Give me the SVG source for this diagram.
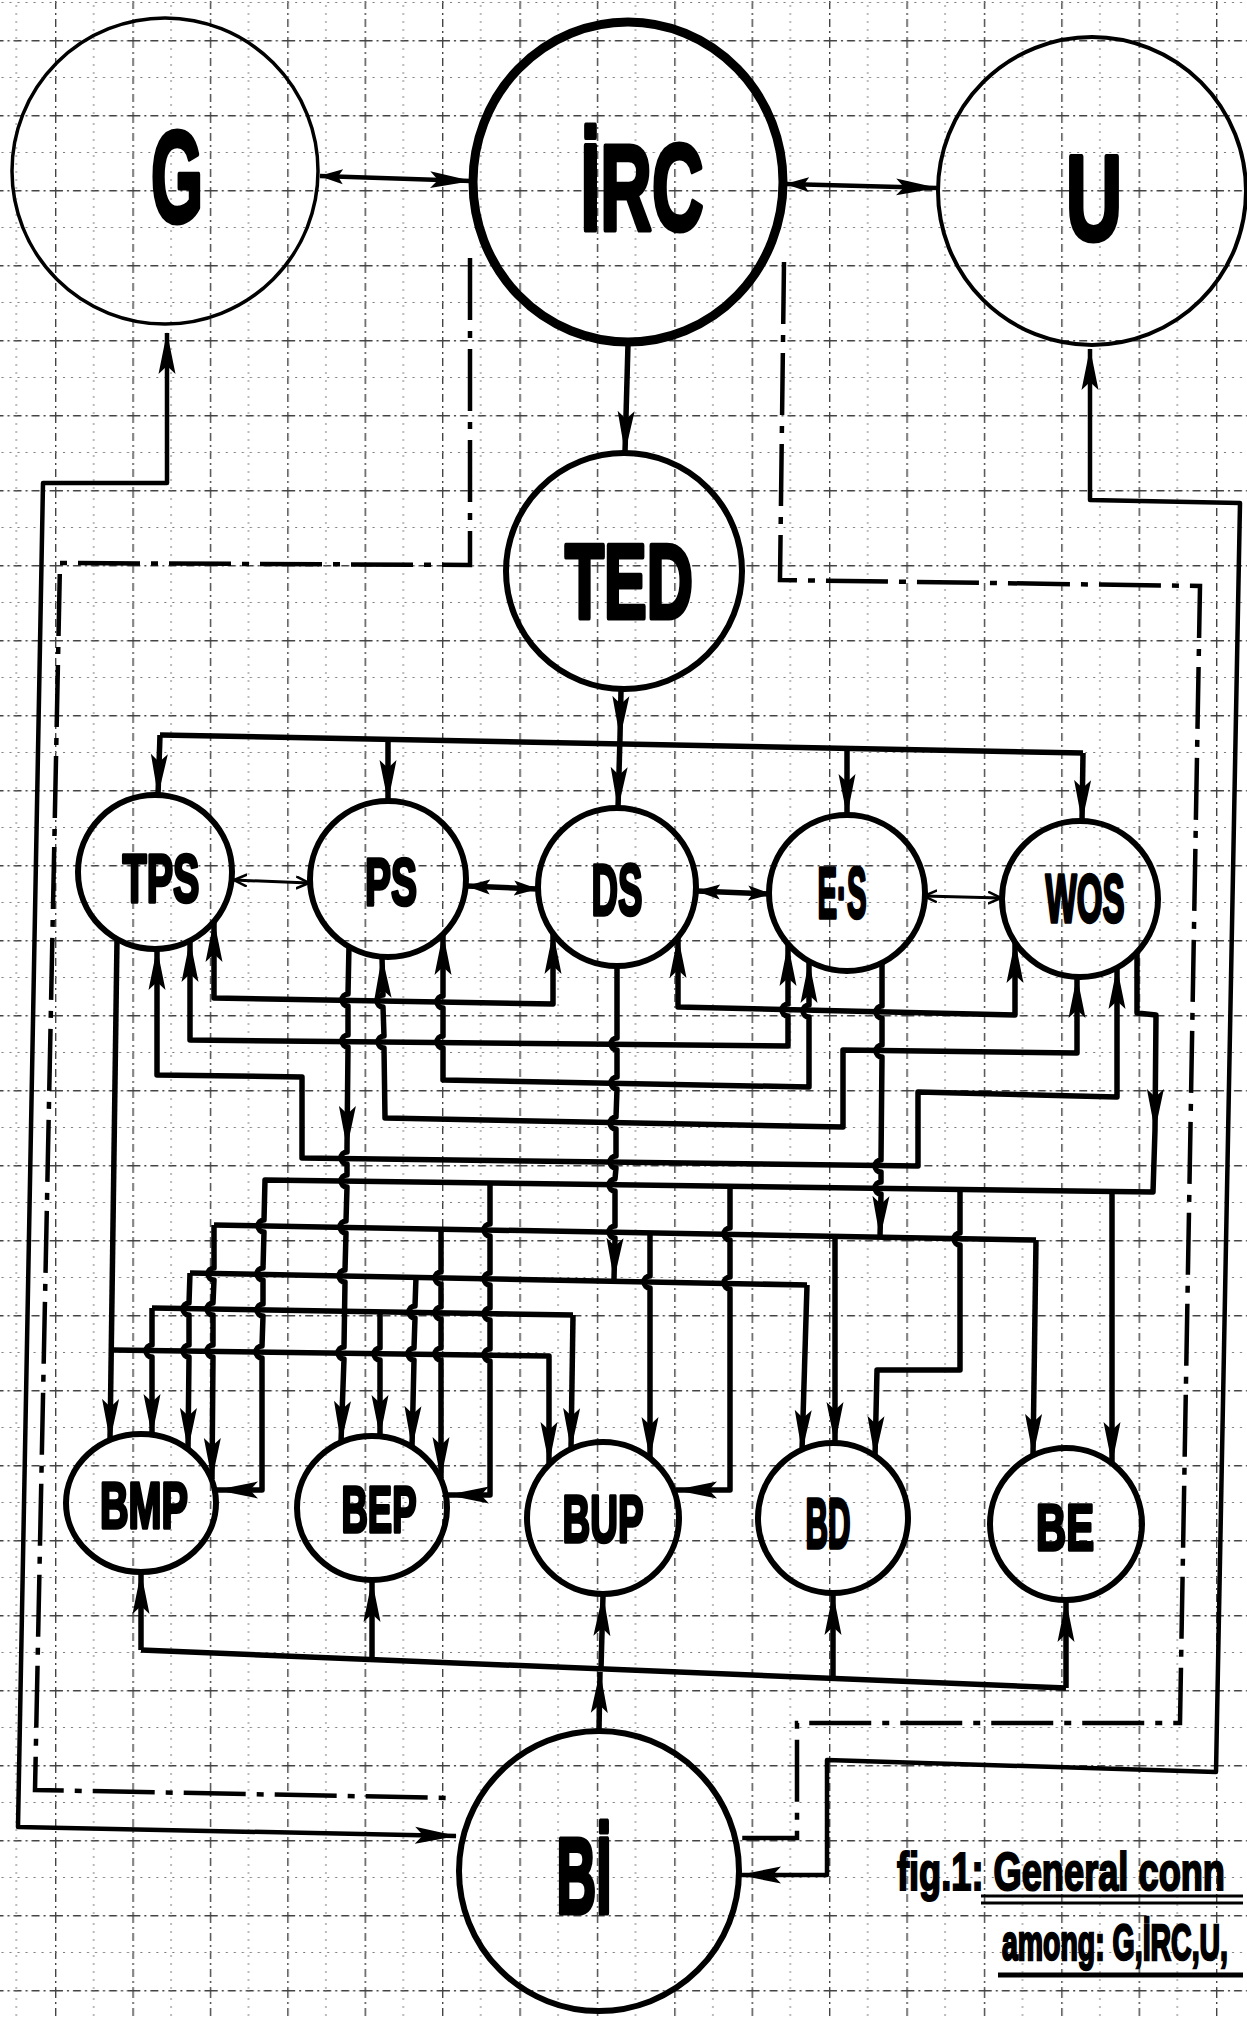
<svg xmlns="http://www.w3.org/2000/svg" width="1247" height="2020" viewBox="0 0 1247 2020">
<style>
.c{fill:none;stroke:#000;stroke-width:5.5;stroke-linejoin:round}
.m{fill:none;stroke:#000;stroke-width:4.5;stroke-linejoin:round}
.t{fill:none;stroke:#000;stroke-width:3}
.dd{fill:none;stroke:#000;stroke-width:4.5;stroke-dasharray:62 11 7 11}
.n{fill:none;stroke:#000;stroke-width:6}
.lb{font-family:"Liberation Sans",Arial,sans-serif;font-weight:bold;text-anchor:middle;fill:#000;stroke:#000;stroke-width:5;stroke-linejoin:round}
.ls{font-family:"Liberation Sans",Arial,sans-serif;font-weight:bold;text-anchor:middle;fill:#000;stroke:#000;stroke-width:3.5;stroke-linejoin:round}
.cap{font-family:"Liberation Sans",Arial,sans-serif;font-weight:bold;fill:#000;stroke:#000;stroke-width:1.5}
</style>
<defs>
<pattern id="grid" patternUnits="userSpaceOnUse" x="55" y="40" width="77.4" height="75">
<path d="M0.7,0 V75 M0,0.7 H77.4" stroke="#444" stroke-width="1.4" stroke-dasharray="8 4 2 4" fill="none"/>
<path d="M38.7,0 V75 M0,37.5 H77.4" stroke="#777" stroke-width="1" stroke-dasharray="2 6" fill="none"/>
</pattern>
<marker id="ah" viewBox="0 0 42 18" refX="41" refY="9" markerWidth="42" markerHeight="18" markerUnits="userSpaceOnUse" orient="auto-start-reverse"><path d="M0,0.5 L42,9 L0,17.5 L8,9 Z" fill="#000"/></marker>
<marker id="am" viewBox="0 0 24 16" refX="23" refY="8" markerWidth="24" markerHeight="16" markerUnits="userSpaceOnUse" orient="auto-start-reverse"><path d="M0,0.5 L24,8 L0,15.5 L5,8 Z" fill="#000"/></marker>
<marker id="ao" viewBox="0 0 14 14" refX="13" refY="7" markerWidth="14" markerHeight="14" markerUnits="userSpaceOnUse" orient="auto-start-reverse"><path d="M0,1 L13,7 L0,13" fill="none" stroke="#000" stroke-width="2.5"/></marker>
</defs>
<rect width="1247" height="2020" fill="#fff"/>
<rect id="paper" width="1247" height="2020" fill="url(#grid)"/>

<g id="connectors">
<path class="m" d="M320,176 L471,181" marker-start="url(#am)" marker-end="url(#ah)"/>
<path class="m" d="M786,184 L937,188" marker-start="url(#am)" marker-end="url(#ah)"/>
<path class="c" d="M628,344 L625,452" marker-end="url(#ah)"/>
<path class="m" d="M456,1836 L18,1827 L43,483 L167,483 L167,333" marker-start="url(#ah)" marker-end="url(#ah)"/>
<path class="m" d="M740,1875 L827,1875 L827,1760 L1216,1772 L1240,503 L1090,500 L1090,349" marker-start="url(#ah)" marker-end="url(#ah)"/>
<path class="dd" d="M470,258 L470,565 L60,563 L35,1790 L452,1798"/>
<path class="dd" d="M784,262 L780,580 L1200,586 L1180,1723 L797,1723 L797,1838 L740,1838"/>
<path class="c" d="M621,690 L620,737" marker-end="url(#ah)"/>
<path class="c" d="M160,735 L1083,753"/>
<path class="c" d="M160,735 L158,795" marker-end="url(#ah)"/>
<path class="c" d="M388,739 L388,801" marker-end="url(#ah)"/>
<path class="c" d="M620,737 L618,808" marker-end="url(#ah)"/>
<path class="c" d="M847,748 L847,815" marker-end="url(#ah)"/>
<path class="c" d="M1083,753 L1082,821" marker-end="url(#ah)"/>
<path class="t" d="M234,880 L309,883" marker-start="url(#ao)" marker-end="url(#ao)"/>
<path class="c" d="M467,886 L537,889" marker-start="url(#am)" marker-end="url(#am)"/>
<path class="c" d="M697,891 L771,894" marker-start="url(#am)" marker-end="url(#am)"/>
<path class="t" d="M924,896 L1001,898" marker-start="url(#ao)" marker-end="url(#ao)"/>
<path class="c" d="M214,921 L214,998 L553,1004 L553,933" marker-start="url(#ah)" marker-end="url(#ah)"/>
<path class="c" d="M190,941 L190,1040 L788,1046 L788,1016 A6,6 0 0 1 788,1004 L788,945" marker-start="url(#ah)" marker-end="url(#ah)"/>
<path class="c" d="M157,949 L157,1075 L302,1077 L302,1158 L918,1166 L918,1092 L1117,1097 L1117,968" marker-start="url(#ah)" marker-end="url(#ah)"/>
<path class="c" d="M443,934 L443,996 A6,6 0 0 0 443,1008 L443,1036 A6,6 0 0 0 443,1048 L443,1080 L809,1087 L809,1017 A6,6 0 0 1 809,1005 L809,962" marker-start="url(#ah)" marker-end="url(#ah)"/>
<path class="c" d="M382,957 L383,995 A6,6 0 0 0 383,1007 L384,1036 A6,6 0 0 0 384,1048 L385,1118 L843,1127 L843,1050 L1077,1053 L1077,977" marker-start="url(#ah)" marker-end="url(#ah)"/>
<path class="c" d="M678,937 L678,1007 L1015,1015 L1015,942" marker-start="url(#ah)" marker-end="url(#ah)"/>
<path class="c" d="M117,939 L110,1440" marker-end="url(#ah)"/>
<path class="c" d="M113,1350 L549,1356 L549,1463" marker-end="url(#ah)"/>
<path class="c" d="M349,945 L348,994 A6,6 0 0 0 348,1006 L348,1035 A6,6 0 0 0 348,1047 L347,1147" marker-end="url(#ah)"/>
<path class="c" d="M347,1147 L347,1152 A6,6 0 0 0 347,1164 L347,1175 A6,6 0 0 0 347,1187 L346,1221 A6,6 0 0 0 346,1233 L345,1270 A6,6 0 0 0 345,1282 L344,1347 A6,6 0 0 0 344,1359 L341,1442" marker-end="url(#ah)"/>
<path class="c" d="M617,966 L617,1038 A6,6 0 0 0 617,1050 L617,1077 A6,6 0 0 0 617,1089 L616,1117 A6,6 0 0 0 616,1129 L616,1156 A6,6 0 0 0 616,1168 L615,1179 A6,6 0 0 0 615,1191 L615,1226 A6,6 0 0 0 615,1238 L614,1279" marker-end="url(#ah)"/>
<path class="c" d="M882,963 L882,1006 A6,6 0 0 0 882,1018 L882,1045 A6,6 0 0 0 882,1057 L881,1160 A6,6 0 0 0 881,1172 L881,1182 A6,6 0 0 0 881,1194 L880,1237" marker-end="url(#ah)"/>
<path class="c" d="M1137,952 L1137,1013 L1156,1015 L1155,1130" marker-end="url(#ah)"/>
<path class="c" d="M1155,1130 L1153,1192 L265,1180 L264,1220 A6,6 0 0 0 264,1232 L263,1268 A6,6 0 0 0 263,1280 L263,1304 A6,6 0 0 0 263,1316 L262,1346 A6,6 0 0 0 262,1358 L262,1490 L217,1490" marker-end="url(#ah)"/>
<path class="c" d="M490,1183 L490,1224 A6,6 0 0 0 490,1236 L490,1273 A6,6 0 0 0 490,1285 L490,1308 A6,6 0 0 0 490,1320 L490,1349 A6,6 0 0 0 490,1361 L490,1495 L448,1495" marker-end="url(#ah)"/>
<path class="c" d="M730,1187 L730,1228 A6,6 0 0 0 730,1240 L730,1277 A6,6 0 0 0 730,1289 L730,1490 L676,1490" marker-end="url(#ah)"/>
<path class="c" d="M960,1190 L960,1233 A6,6 0 0 0 960,1245 L960,1370 L877,1370 L875,1457" marker-end="url(#ah)"/>
<path class="c" d="M1112,1192 L1112,1463" marker-end="url(#ah)"/>
<path class="c" d="M214,1225 L1036,1240"/>
<path class="c" d="M214,1225 L214,1268 A6,6 0 0 0 214,1280 L213,1303 A6,6 0 0 0 213,1315 L213,1345 A6,6 0 0 0 213,1357 L212,1479" marker-end="url(#ah)"/>
<path class="c" d="M441,1229 L441,1272 A6,6 0 0 0 441,1284 L441,1307 A6,6 0 0 0 441,1319 L441,1348 A6,6 0 0 0 441,1360 L441,1478" marker-end="url(#ah)"/>
<path class="c" d="M650,1233 L650,1276 A6,6 0 0 0 650,1288 L650,1458" marker-end="url(#ah)"/>
<path class="c" d="M835,1237 L835,1443" marker-end="url(#ah)"/>
<path class="c" d="M1036,1240 L1033,1455" marker-end="url(#ah)"/>
<path class="c" d="M190,1273 L807,1285"/>
<path class="c" d="M190,1273 L189,1303 A6,6 0 0 0 189,1315 L189,1345 A6,6 0 0 0 189,1357 L188,1449" marker-end="url(#ah)"/>
<path class="c" d="M416,1277 L415,1306 A6,6 0 0 0 415,1318 L414,1348 A6,6 0 0 0 414,1360 L412,1447" marker-end="url(#ah)"/>
<path class="c" d="M807,1285 L802,1451" marker-end="url(#ah)"/>
<path class="c" d="M152,1308 L573,1315"/>
<path class="c" d="M152,1308 L152,1345 A6,6 0 0 0 152,1357 L152,1435" marker-end="url(#ah)"/>
<path class="c" d="M380,1312 L380,1348 A6,6 0 0 0 380,1360 L380,1436" marker-end="url(#ah)"/>
<path class="c" d="M573,1315 L571,1449" marker-end="url(#ah)"/>
<path class="c" d="M141,1650 L1066,1688"/>
<path class="c" d="M599,1731 L600,1672" marker-end="url(#ah)"/>
<path class="c" d="M601,1669 L603,1595" marker-end="url(#ah)"/>
<path class="c" d="M141,1650 L141,1573" marker-end="url(#ah)"/>
<path class="c" d="M372,1660 L372,1581" marker-end="url(#ah)"/>
<path class="c" d="M833,1678 L833,1594" marker-end="url(#ah)"/>
<path class="c" d="M1066,1688 L1066,1601" marker-end="url(#ah)"/>
</g>

<g id="node-G"><circle cx="165" cy="171" r="153" fill="none" stroke="#000" stroke-width="3.5"/><text class="lb" x="177" y="222" font-size="130" textLength="52" lengthAdjust="spacingAndGlyphs">G</text></g>
<g id="node-IRC"><ellipse cx="628" cy="182" rx="155" ry="160" fill="none" stroke="#000" stroke-width="9"/><text class="lb" x="642" y="230" font-size="122" textLength="123" lengthAdjust="spacingAndGlyphs">İRC</text></g>
<g id="node-U"><circle cx="1092" cy="191" r="154" fill="none" stroke="#000" stroke-width="4"/><text class="lb" x="1094" y="240" font-size="120" textLength="56" lengthAdjust="spacingAndGlyphs">U</text></g>
<g id="node-TED"><circle class="n" cx="624" cy="571" r="118"/><text class="lb" x="629" y="618" font-size="106" textLength="128" lengthAdjust="spacingAndGlyphs">TED</text></g>
<g id="node-TPS"><circle class="n" cx="155" cy="872" r="77"/><text class="ls" x="161" y="902" font-size="68" textLength="77" lengthAdjust="spacingAndGlyphs">TPS</text></g>
<g id="node-PS"><circle class="n" cx="388" cy="879" r="78"/><text class="ls" x="391" y="905" font-size="67" textLength="52" lengthAdjust="spacingAndGlyphs">PS</text></g>
<g id="node-DS"><circle class="n" cx="617" cy="887" r="79"/><text class="ls" x="617" y="915" font-size="72" textLength="51" lengthAdjust="spacingAndGlyphs">DS</text></g>
<g id="node-ES"><circle class="n" cx="847" cy="893" r="78"/><text class="ls" x="842" y="918" font-size="72" textLength="49" lengthAdjust="spacingAndGlyphs">E·S</text></g>
<g id="node-WOS"><circle class="n" cx="1080" cy="899" r="78"/><text class="ls" x="1085" y="922" font-size="69" textLength="79" lengthAdjust="spacingAndGlyphs">WOS</text></g>
<g id="node-BMP"><ellipse class="n" cx="141" cy="1503" rx="75" ry="69"/><text class="ls" x="144" y="1528" font-size="64" textLength="88" lengthAdjust="spacingAndGlyphs">BMP</text></g>
<g id="node-BEP"><ellipse class="n" cx="372" cy="1508" rx="75" ry="72"/><text class="ls" x="379" y="1532" font-size="65" textLength="75" lengthAdjust="spacingAndGlyphs">BEP</text></g>
<g id="node-BUP"><circle class="n" cx="603" cy="1518" r="76"/><text class="ls" x="603" y="1542" font-size="66" textLength="81" lengthAdjust="spacingAndGlyphs">BUP</text></g>
<g id="node-BD"><circle class="n" cx="833" cy="1518" r="75"/><text class="ls" x="828" y="1548" font-size="70" textLength="45" lengthAdjust="spacingAndGlyphs">BD</text></g>
<g id="node-BE"><circle class="n" cx="1066" cy="1524" r="76"/><text class="ls" x="1065" y="1550" font-size="65" textLength="58" lengthAdjust="spacingAndGlyphs">BE</text></g>
<g id="node-BI"><circle class="n" cx="599" cy="1871" r="140"/><text class="lb" x="584" y="1913" font-size="108" textLength="55" lengthAdjust="spacingAndGlyphs">Bİ</text></g>

<g id="caption">
<text class="cap" transform="translate(897,1890) scale(1,1.45)" x="0" y="0" font-size="37" textLength="328" lengthAdjust="spacingAndGlyphs">fig.1: General conn</text>
<path d="M981,1896 H1243 M981,1903 H1243" stroke="#000" stroke-width="3" fill="none"/>
<text class="cap" transform="translate(1002,1960) scale(1,1.75)" x="0" y="0" font-size="29" textLength="226" lengthAdjust="spacingAndGlyphs">among: G,İRC,U,</text>
<path d="M998,1975 H1243" stroke="#000" stroke-width="5" fill="none"/>
</g>
</svg>
